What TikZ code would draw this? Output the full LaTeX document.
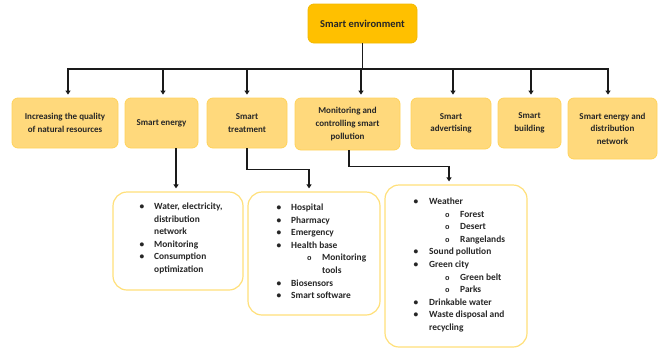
\documentclass[tikz,border=0pt]{standalone}
\usepackage{fontspec}
\setmainfont{Carlito}
\newfontfamily\submonofont{Liberation Mono}
\usetikzlibrary{arrows.meta}
\definecolor{topfill}{HTML}{FFC000}
\definecolor{topdraw}{HTML}{F2B800}
\definecolor{rowfill}{HTML}{FFD97C}
\definecolor{rowdraw}{HTML}{FFD35A}
\definecolor{listdraw}{HTML}{FFE07A}
\definecolor{txt}{HTML}{262626}
\definecolor{linec}{HTML}{1A1A1A}
\newcommand{\Bul}{\textbullet}
\newcommand{\SubIt}[1]{\makebox[31pt][l]{\hspace*{16pt}{\submonofont\fontsize{7.5}{12.6}\selectfont o}}#1}
\begin{document}
\begin{tikzpicture}[x=1pt,y=-1pt,
  topbox/.style={draw=topdraw,fill=topfill,rounded corners=6pt,line width=0.8pt,
    font=\bfseries\fontsize{10.5}{12}\selectfont,text=txt,align=center,inner sep=0pt},
  rowbox/.style={draw=rowdraw,fill=rowfill,rounded corners=6pt,line width=0.8pt,
    font=\bfseries\fontsize{9}{12.6}\selectfont,text=txt,align=center,inner sep=0pt},
  listbox/.style={draw=listdraw,fill=white,rounded corners=14pt,line width=1.2pt,inner sep=0pt},
  listtext/.style={anchor=north west,inner sep=0pt,text=txt,
    font=\bfseries\fontsize{9.4}{12.6}\selectfont},
  conn/.style={draw=linec,line width=1.8pt},
  arr/.style={conn,-{Triangle[width=5pt,length=4pt]},shorten >=3pt}]
\useasboundingbox (0,0) rectangle (668,349);

% top
\node[topbox,minimum width=109pt,minimum height=39pt] (top) at (362.5,23.5) {Smart environment};

% second row
\node[rowbox,minimum width=106pt,minimum height=50pt] (b1) at (65,123) {Increasing the quality\\of natural resources};
\node[rowbox,minimum width=73pt,minimum height=50pt] (b2) at (161.5,123) {Smart energy};
\node[rowbox,minimum width=80pt,minimum height=50pt] (b3) at (247,123) {Smart\\treatment};
\node[rowbox,minimum width=105pt,minimum height=52pt] (b4) at (347.5,124) {Monitoring and\\controlling smart\\pollution};
\node[rowbox,minimum width=80pt,minimum height=51pt] (b5) at (451,123.5) {Smart\\advertising};
\node[rowbox,minimum width=63pt,minimum height=50pt] (b6) at (529.5,123) {Smart\\building};
\node[rowbox,minimum width=89pt,minimum height=61pt] (b7) at (612.5,128.5) {Smart energy and\\distribution\\network};

% list boxes
\node[listbox,minimum width=130pt,minimum height=98pt] (lA) at (178,241) {};
\node[listbox,minimum width=132pt,minimum height=123pt] (lB) at (314,253.5) {};
\node[listbox,minimum width=142pt,minimum height=162pt] (lC) at (456,266) {};

\node[listtext] (tA) at (139.5,200.5) {\begin{tabular}{@{}p{14.5pt}@{}l@{}}
\Bul & Water, electricity,\\
 & distribution\\
 & network\\
\Bul & Monitoring\\
\Bul & Consumption\\
 & optimization
\end{tabular}};

\node[listtext] (tB) at (276.5,201.5) {\begin{tabular}{@{}p{14.5pt}@{}l@{}}
\Bul & Hospital\\
\Bul & Pharmacy\\
\Bul & Emergency\\
\Bul & Health base\\
 & \SubIt{Monitoring}\\
 & \hspace*{31pt}tools\\
\Bul & Biosensors\\
\Bul & Smart software
\end{tabular}};

\node[listtext] (tC) at (413.5,195.5) {\begin{tabular}{@{}p{15.5pt}@{}l@{}}
\Bul & Weather\\
 & \SubIt{Forest}\\
 & \SubIt{Desert}\\
 & \SubIt{Rangelands}\\
\Bul & Sound pollution\\
\Bul & Green city\\
 & \SubIt{Green belt}\\
 & \SubIt{Parks}\\
\Bul & Drinkable water\\
\Bul & Waste disposal and\\
 & recycling
\end{tabular}};

% connectors
\coordinate (busL) at (68,69);
\coordinate (busR) at (608,69);
\draw[conn] (top.south) -- (top.south |- busL);
\draw[conn,line cap=rect] (busL) -- (busR);
\draw[arr] ([xshift=3pt]b1.north |- busL) -- ([xshift=3pt]b1.north);
\draw[arr] ([xshift=1.5pt]b2.north |- busL) -- ([xshift=1.5pt]b2.north);
\draw[arr] (b3.north |- busL) -- (b3.north);
\draw[arr] ([xshift=13.5pt]b4.north |- busL) -- ([xshift=13.5pt]b4.north);
\draw[arr] ([xshift=2pt]b5.north |- busL) -- ([xshift=2pt]b5.north);
\draw[arr] ([xshift=1.5pt]b6.north |- busL) -- ([xshift=1.5pt]b6.north);
\draw[arr] ([xshift=-4.5pt]b7.north |- busL) -- ([xshift=-4.5pt]b7.north);

\draw[arr] ([xshift=14.5pt]b2.south) -- ([xshift=14.5pt]b2.south |- lA.north);
\draw[arr] (b3.south) -- ++(0,21) -| ([xshift=-5pt]lB.north);
\draw[arr] ([xshift=1.5pt]b4.south) -- ++(0,16) -| ([xshift=-7pt]lC.north);
\end{tikzpicture}
\end{document}
